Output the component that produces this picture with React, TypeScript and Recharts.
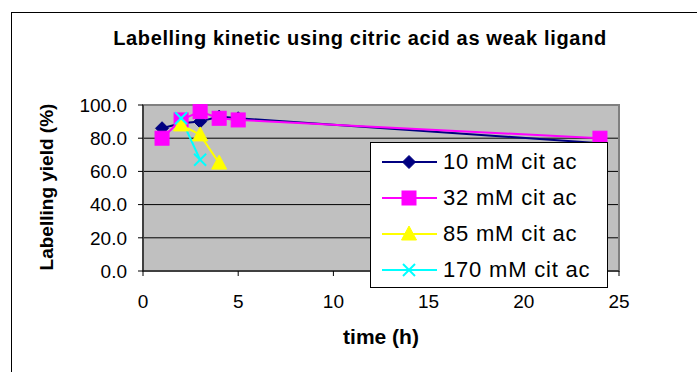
import { CartesianGrid, Legend, Line, LineChart, ReferenceArea, XAxis, YAxis } from 'recharts'

// time points (h) and labelling yields (%) per citric acid concentration
const times10 = [1, 2, 3, 4, 5, 24]
const yield10 = [86, 89, 90, 93, 92, 77]
const times32 = [1, 2, 3, 4, 5, 24]
const yield32 = [80, 91, 96, 92, 91, 80]
const times85 = [2, 3, 4]
const yield85 = [88, 82, 65]
const times170 = [2, 3]
const yield170 = [92, 67]

const xTicks = [0, 5, 10, 15, 20, 25]
const yTicks = [0, 20, 40, 60, 80, 100]

const FONT = 'Arial, "Liberation Sans", sans-serif'

type Marker = 'diamond' | 'square' | 'triangle' | 'cross'

function drawMarker(kind: Marker, cx: number, cy: number, color: string, key?: string | number) {
  if (kind === 'diamond') {
    const r = 6.5
    return <polygon key={key} points={`${cx},${cy - r} ${cx + r},${cy} ${cx},${cy + r} ${cx - r},${cy}`} fill={color} stroke={color} />
  }
  if (kind === 'square') {
    return <rect key={key} x={cx - 7} y={cy - 7} width={14} height={14} fill={color} stroke={color} />
  }
  if (kind === 'triangle') {
    return <polygon key={key} points={`${cx},${cy - 8} ${cx + 7.5},${cy + 6} ${cx - 7.5},${cy + 6}`} fill={color} stroke={color} />
  }
  const h = 6
  return (
    <g key={key}>
      <line x1={cx - h} y1={cy - h} x2={cx + h} y2={cy + h} stroke={color} strokeWidth={2} />
      <line x1={cx - h} y1={cy + h} x2={cx + h} y2={cy - h} stroke={color} strokeWidth={2} />
    </g>
  )
}

const series = [
  { name: '10 mM cit ac', color: '#000080', marker: 'diamond' as Marker, times: times10, values: yield10 },
  { name: '32 mM cit ac', color: '#FF00FF', marker: 'square' as Marker, times: times32, values: yield32 },
  { name: '85 mM cit ac', color: '#FFFF00', marker: 'triangle' as Marker, times: times85, values: yield85 },
  { name: '170 mM cit ac', color: '#00FFFF', marker: 'cross' as Marker, times: times170, values: yield170 },
]

function LegendBox() {
  return (
    <div
      style={{
        width: 236,
        height: 144,
        border: '1px solid #000',
        background: '#fff',
        fontFamily: FONT,
        fontSize: 22,
        color: '#000',
        boxSizing: 'content-box',
      }}
    >
      {series.map((s, i) => (
        <div key={s.name} style={{ position: 'absolute', left: 12, top: 4 + i * 36, height: 32, display: 'flex', alignItems: 'center' }}>
          <svg width={56} height={20} style={{ display: 'block' }}>
            <line x1={0} y1={10} x2={55} y2={10} stroke={s.color} strokeWidth={2} />
            {drawMarker(s.marker, 27, 10, s.color)}
          </svg>
          <span style={{ marginLeft: 5, whiteSpace: 'nowrap', letterSpacing: 0.8 }}>{s.name}</span>
        </div>
      ))}
    </div>
  )
}

export default function App() {
  return (
    <div style={{ position: 'fixed', left: 0, top: 0, width: 697, height: 372, background: '#fff', overflow: 'hidden' }}>
      <div style={{ position: 'absolute', left: 11, top: 12, width: 720, height: 400, border: '1px solid #000' }} />
      <div
        style={{
          position: 'absolute',
          left: 0,
          width: 720,
          top: 27,
          textAlign: 'center',
          fontFamily: FONT,
          fontWeight: 'bold',
          fontSize: 20,
          letterSpacing: 0.65,
          color: '#000',
          whiteSpace: 'nowrap',
        }}
      >
        Labelling kinetic using citric acid as weak ligand
      </div>
      <div style={{ position: 'absolute', left: 0, top: 0 }}>
        <LineChart width={697} height={372} margin={{ top: 105, right: 78, bottom: 21, left: 43 }}>
          <CartesianGrid vertical={false} stroke="#000" fill="#C0C0C0" />
          <ReferenceArea x1={0} x2={25} y1={0} y2={100} fill="none" stroke="#808080" strokeWidth={2} />
          <XAxis
            dataKey="t"
            type="number"
            domain={[0, 25]}
            ticks={xTicks}
            allowDataOverflow
            height={80}
            stroke="#000"
            tickSize={5}
            tickMargin={19}
            tick={{ fontFamily: FONT, fontSize: 19, fill: '#000' }}
            label={{ value: 'time (h)', position: 'insideBottom', offset: 7, fontFamily: FONT, fontSize: 21, fontWeight: 'bold', fill: '#000' }}
          />
          <YAxis
            type="number"
            domain={[0, 100]}
            ticks={yTicks}
            width={100}
            stroke="#000"
            tickSize={5}
            tickMargin={11}
            tickFormatter={(v: number) => v.toFixed(1)}
            tick={{ fontFamily: FONT, fontSize: 19, fill: '#000' }}
            label={{
              content: () => (
                <text
                  x={53}
                  y={187}
                  transform="rotate(-90 53 187)"
                  textAnchor="middle"
                  fontFamily={FONT}
                  fontSize={19}
                  fontWeight="bold"
                  fill="#000"
                >
                  Labelling yield (%)
                </text>
              ),
            }}
          />
          {series.map(s => (
            <Line
              key={s.name}
              data={s.times.map((t, i) => ({ t, y: s.values[i] }))}
              dataKey="y"
              name={s.name}
              stroke={s.color}
              strokeWidth={2}
              isAnimationActive={false}
              dot={(p: any) => drawMarker(s.marker, p.cx, p.cy, s.color, `${s.name}-${p.index}`)}
              activeDot={false}
            />
          ))}
          <Legend
            layout="horizontal"
            verticalAlign="middle"
            align="center"
            content={() => <LegendBox />}
            wrapperStyle={{ position: 'absolute', left: 370, top: 142, width: 238, height: 146 }}
          />
        </LineChart>
      </div>
    </div>
  )
}
